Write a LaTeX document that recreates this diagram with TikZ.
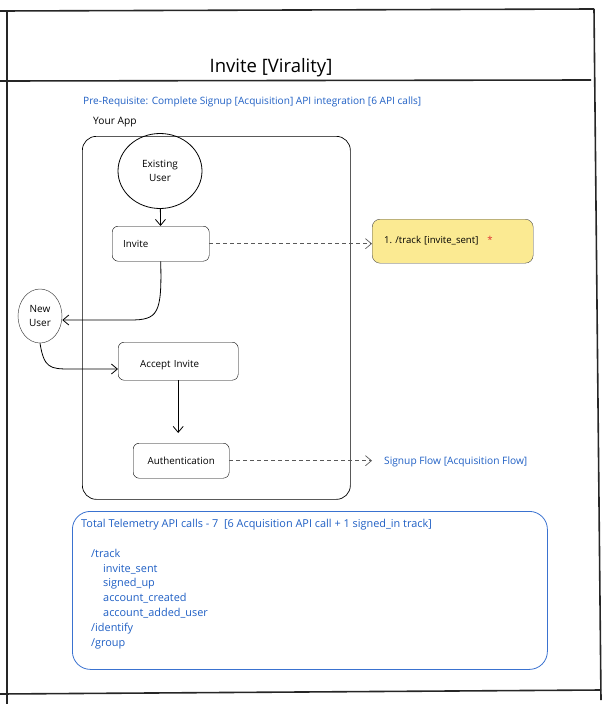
\documentclass[tikz,border=0pt]{standalone}
\usepackage{fontspec}
\setmainfont{Open Sans}
\usetikzlibrary{positioning,arrows.meta,shapes.geometric}
\definecolor{flowblue}{HTML}{1F5FC4}
\definecolor{boxblue}{HTML}{3A72D0}
\definecolor{notefill}{HTML}{FBEA92}
\definecolor{starred}{HTML}{E03131}
\definecolor{linkgray}{gray}{0.35}

\tikzset{
  frame/.style={line width=1.6pt,draw=black!85},
  stepbox/.style={draw,rounded corners=6pt,inner sep=0pt,font=\fontsize{9.8}{11}\selectfont},
  userblob/.style={draw,ellipse,inner sep=0pt,align=center,font=\fontsize{10}{13.5}\selectfont},
  link/.style={-{Straight Barb[length=6pt,width=10pt]},line width=0.8pt},
  dashlink/.style={-{Straight Barb[length=6pt,width=10pt]},dash pattern=on 4pt off 3pt,draw=linkgray,line width=0.7pt},
  bluetext/.style={text=flowblue,font=\fontsize{10.1}{11}\selectfont}
}

\begin{document}
\begin{tikzpicture}[x=1pt,y=-1pt]
    \useasboundingbox (0,0) rectangle (613,704);

    % page frame
    \draw[frame] (0,11) -- (594,9);
    \draw[frame] (7,11) -- (7,704);
    \draw[frame] (594,9) -- (601,700);
    \draw[frame] (0,81) -- (591,80);
    \draw[frame] (0,694) -- (601,690);

    \node (title) at (271,68) {\fontsize{18.5}{20}\selectfont Invite [Virality]};
    \node [bluetext,anchor=west,inner sep=0pt] (prereq) at (83,102)
    {Pre-Requisite: Complete Signup [Acquisition] API integration [6 API calls]};
    \node [anchor=west,inner sep=0pt,font=\fontsize{10.2}{11}\selectfont] (appname) at (93,122) {Your App};

    % the app
    \node [draw,rounded corners=14pt,line width=0.7pt,minimum width=268pt,minimum height=363pt,anchor=north west]
    (app) at (82,136) {};

    \node [userblob,line width=0.8pt,minimum width=84pt,minimum height=75pt] (existing) at (160,171) {Existing\\User};
    \node [stepbox,anchor=north west,minimum width=97pt,minimum height=35pt,text width=75pt,align=left]
    (invite) at (112,226) {Invite};
    \node [stepbox,anchor=north west,minimum width=120pt,minimum height=38pt,text width=76pt,align=left]
    (accept) at (118,342) {\raisebox{-6.5pt}[0pt][0pt]{Accept Invite}};
    \node [stepbox,anchor=north west,minimum width=96pt,minimum height=35pt]
    (auth) at (133,443) {Authentication};

    \node [userblob,draw=black!70,line width=0.5pt,minimum width=44pt,minimum height=54pt] (newuser) at (40,316) {New\\User};

    % tracking note
    \node [draw=black!70,fill=notefill,rounded corners=8pt,anchor=north west,minimum width=161pt,minimum height=44pt,
           inner sep=0pt,text width=137pt,align=left,font=\fontsize{9.6}{11}\selectfont]
    (note) at (372,219) {\raisebox{3pt}{1.\ /track [invite\_sent]\hspace{9pt}{\color{starred}*}}};

    \node [bluetext,font=\fontsize{10.2}{11}\selectfont,anchor=west,inner sep=0pt] (signup) at (384,462) {Signup Flow [Acquisition Flow]};

    % connectors
    \coordinate (bendleft) at (130,320);
    \coordinate (bendright) at (70,369);
    \draw[link] (existing) -- (invite);
    \draw[link] (invite.south) .. controls (162,314) and (158,320) .. (bendleft) -- (bendleft -| newuser.east);
    \draw[link] (newuser.south) .. controls (44,368) and (50,369) .. (bendright) -- (bendright -| accept.west);
    \draw[link,shorten >=10pt] (accept.south) -- (accept.south |- auth.north);
    \draw[dashlink] (invite.east) -- (invite.east -| note.west);
    \draw[dashlink,shorten >=12pt] (auth.east) -- (auth.east -| signup.west);

    % totals
    \node [draw=boxblue,line width=0.8pt,rounded corners=18pt,anchor=north west,minimum width=475pt,minimum height=158pt]
    (totals) at (72,511) {};
    \node [anchor=north west,inner sep=0pt,align=left,text=flowblue,font=\fontsize{10.9}{14.8}\selectfont]
    (calls) at (81,519) {Total Telemetry API calls - 7~~[6 Acquisition API call + 1 signed\_in track]\\[15pt]
    \hspace{10pt}/track\\
    \hspace{22pt}invite\_sent\\
    \hspace{22pt}signed\_up\\
    \hspace{22pt}account\_created\\
    \hspace{22pt}account\_added\_user\\
    \hspace{10pt}/identify\\
    \hspace{10pt}/group};
\end{tikzpicture}
\end{document}
